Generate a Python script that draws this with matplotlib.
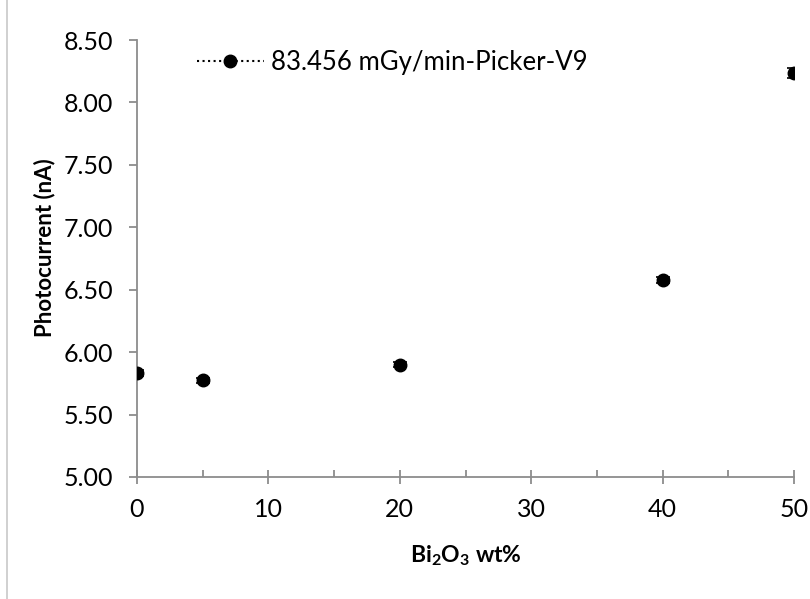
import matplotlib.pyplot as plt
from matplotlib.lines import Line2D

plt.rcParams['font.family'] = ['Lato', 'DejaVu Sans']
plt.rcParams['mathtext.fontset'] = 'custom'
plt.rcParams['mathtext.rm'] = 'Lato'
plt.rcParams['mathtext.bf'] = 'Lato:bold'

bi2o3_wt = [0, 5, 20, 40, 50]
photocurrent = [5.83, 5.775, 5.90, 6.575, 8.235]
err = [0.025, 0.02, 0.02, 0.025, 0.04]
series_label = "83.456 mGy/min-Picker-V9"

AXIS_GRAY = '#8c8c8c'

fig = plt.figure(figsize=(8.10, 5.99), dpi=100)
ax = fig.add_axes([137/810, 1 - 477/599, (794 - 137)/810, (477 - 40)/599])

ax.errorbar(bi2o3_wt, photocurrent, yerr=err, fmt='o', color='black',
            markersize=9, capsize=5, elinewidth=1.2, capthick=1.2, zorder=3)

ax.set_xlim(0, 50)
ax.set_ylim(5.0, 8.5)
ax.set_xticks(range(0, 51, 10))
ax.set_xticks(range(5, 50, 10), minor=True)
ax.set_yticks([5.0 + 0.5 * i for i in range(8)])
ax.set_yticklabels([f'{5.0 + 0.5 * i:.2f}' for i in range(8)])

for s in ['top', 'right']:
    ax.spines[s].set_visible(False)
for s in ['left', 'bottom']:
    ax.spines[s].set_color(AXIS_GRAY)
    ax.spines[s].set_linewidth(1.3)
    ax.spines[s].set_zorder(1)

ax.tick_params(axis='x', which='major', direction='inout', length=10, width=1.3,
               color=AXIS_GRAY, labelsize=18, pad=10)
ax.tick_params(axis='x', which='minor', direction='in', length=5, width=1.3,
               color=AXIS_GRAY)
ax.tick_params(axis='y', direction='out', length=6, width=1.3,
               color=AXIS_GRAY, labelsize=18, pad=11)

ax.set_xlabel(r'$\mathbf{Bi_2O_3}$ wt%', fontsize=16.5, fontweight='bold')
ax.set_ylabel('Photocurrent (nA)', fontsize=16, fontweight='bold')
ax.xaxis.set_label_coords(0.5, -0.151)
ax.yaxis.set_label_coords(-0.125, 0.525)

proxy = Line2D([], [], color='black', linestyle=':', linewidth=1.5,
               marker='o', markersize=9)
ax.legend([proxy], [series_label], loc='upper left', frameon=False,
          fontsize=18.5, handlelength=2.6, handletextpad=0.3,
          bbox_to_anchor=(0.056, 1.03))

# faint outer border on the left edge
fig.add_artist(Line2D([7/810, 7/810], [0, 1], color='#c8c8c8', linewidth=1.2,
                      transform=fig.transFigure))

fig.savefig('out.png', dpi=100)
